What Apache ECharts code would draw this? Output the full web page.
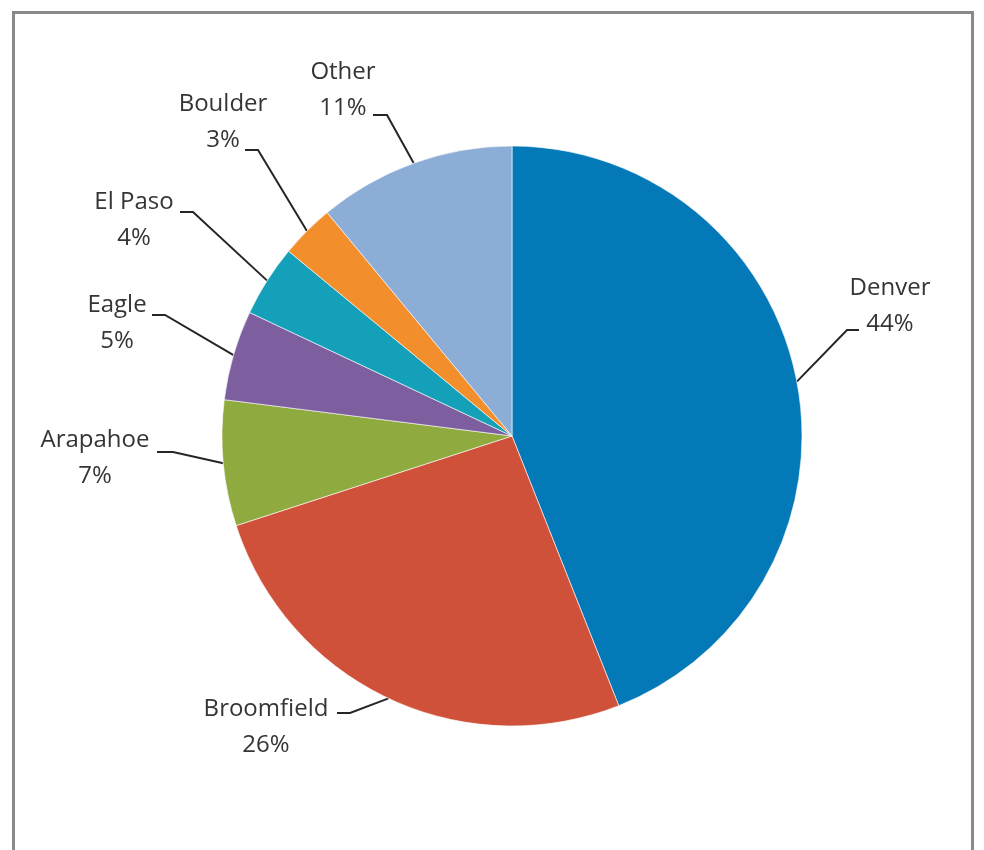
<!DOCTYPE html>
<html>
<head>
<meta charset="utf-8">
<title>Share by County</title>
<script src="https://cdn.jsdelivr.net/npm/echarts@6/dist/echarts.min.js"></script>
<style>
  html, body { margin: 0; padding: 0; background: #ffffff; }
  #chart { width: 984px; height: 850px; }
</style>
</head>
<body>
<div id="chart"></div>
<script>
// Counties and their share (percent), clockwise from 12 o'clock
const counties = ['Denver', 'Broomfield', 'Arapahoe', 'Eagle', 'El Paso', 'Boulder', 'Other'];
const shares = [44, 26, 7, 5, 4, 3, 11];

// Slice colours, in the same order as the counties
const sliceColors = ['#0479b7', '#d0513a', '#8faa3e', '#7d5fa0', '#14a0b8', '#f28e2b', '#8cadd6'];

// Where each label block sits, and where its leader line turns horizontal:
// [blockCenterX, blockCenterY, lineEndX, lineBendX, lineY]
const labelSpots = [
  [890, 306, 859, 847, 330],
  [266, 727, 337, 350, 713],
  [95, 458, 157, 173, 452],
  [117, 323, 152, 165, 315],
  [134, 220, 180, 193, 212],
  [223, 122, 245, 258, 150],
  [343, 90, 373, 387, 115]
];

const chart = echarts.init(document.getElementById('chart'), null, { renderer: 'canvas' });

chart.setOption({
  backgroundColor: '#ffffff',
  animation: false,
  graphic: [{
    type: 'rect',
    silent: true,
    shape: { x: 13.5, y: 12.5, width: 959, height: 900 },
    style: { fill: null, stroke: '#8a8a8a', lineWidth: 3 }
  }],
  series: [{
    type: 'pie',
    center: [512, 436],
    radius: 290,
    startAngle: 90,
    clockwise: true,
    avoidLabelOverlap: false,
    data: counties.map((name, i) => ({
      name: name,
      value: shares[i],
      itemStyle: { color: sliceColors[i] }
    })),
    itemStyle: { borderColor: '#ffffff', borderWidth: 0.6 },
    label: {
      show: true,
      position: 'outside',
      formatter: '{b}\n{c}%',
      fontFamily: '"Open Sans", sans-serif',
      fontSize: 24,
      fontWeight: 500,
      lineHeight: 36,
      color: '#353535'
    },
    labelLine: {
      show: true,
      length: 20,
      length2: 14,
      smooth: false,
      lineStyle: { color: '#262626', width: 2 }
    },
    emphasis: { disabled: true },
    labelLayout: function (params) {
      const s = labelSpots[params.dataIndex];
      const edge = params.labelLinePoints ? params.labelLinePoints[0] : [s[3], s[4]];
      return {
        x: s[0],
        y: s[1],
        align: 'center',
        verticalAlign: 'middle',
        labelLinePoints: [edge, [s[3], s[4]], [s[2], s[4]]]
      };
    }
  }]
});
</script>
</body>
</html>
